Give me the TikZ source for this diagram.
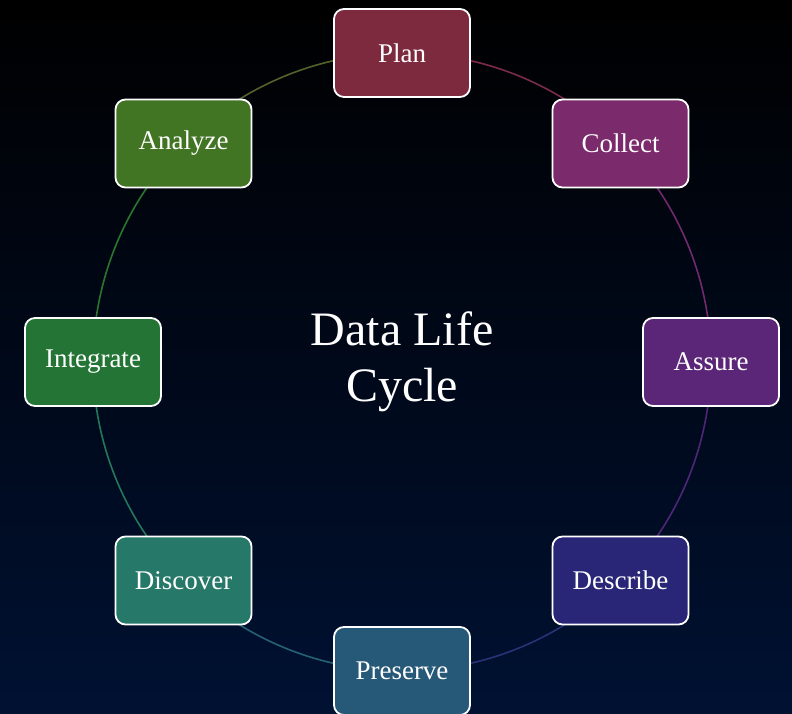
\documentclass[tikz,border=0pt]{standalone}
\usepackage{fontspec}
\setmainfont{Liberation Serif}
\usetikzlibrary{calc}
\pgfdeclarelayer{bg}
\pgfdeclarelayer{ring}
\pgfsetlayers{bg,ring,main}

% stage colours
\definecolor{cPlan}{RGB}{125,42,63}
\definecolor{cCollect}{RGB}{123,42,107}
\definecolor{cAssure}{RGB}{91,38,119}
\definecolor{cDescribe}{RGB}{42,38,119}
\definecolor{cPreserve}{RGB}{38,88,120}
\definecolor{cDiscover}{RGB}{38,120,104}
\definecolor{cIntegrate}{RGB}{36,117,53}
\definecolor{cAnalyze}{RGB}{66,117,35}
\definecolor{bgTop}{RGB}{0,0,0}
\definecolor{bgMid}{RGB}{3,6,16}
\definecolor{bgBot}{RGB}{0,17,50}

\tikzset{
  stagebox/.style={draw=white, line width=1.8pt, rounded corners=10pt,
    minimum width=136pt, minimum height=88pt, text=white,
    font=\fontsize{27}{31}\selectfont},
  ringarc/.style={line width=1.6pt},
}

\begin{document}
\begin{tikzpicture}[x=1pt,y=1pt]
  \useasboundingbox (0,0) rectangle (792,714);
  \clip (0,0) rectangle (792,714);
  \coordinate (c) at (402,352);

  % stages around the cycle
  \node[stagebox, fill=cPlan]      (plan)      at ($(c)+(90:309)$)  {Plan};
  \node[stagebox, fill=cCollect]   (collect)   at ($(c)+(45:309)$)  {Collect};
  \node[stagebox, fill=cAssure]    (assure)    at ($(c)+(0:309)$)   {Assure};
  \node[stagebox, fill=cDescribe]  (describe)  at ($(c)+(-45:309)$) {Describe};
  \node[stagebox, fill=cPreserve]  (preserve)  at ($(c)+(-90:309)$) {Preserve};
  \node[stagebox, fill=cDiscover]  (discover)  at ($(c)+(-135:309)$) {Discover};
  \node[stagebox, fill=cIntegrate] (integrate) at ($(c)+(180:309)$) {Integrate};
  \node[stagebox, fill=cAnalyze]   (analyze)   at ($(c)+(135:309)$) {Analyze};

  % centre title
  \node[text=white, align=center, font=\fontsize{48}{56}\selectfont] (title) at (c) {Data Life\\Cycle};

  % ring segments joining the stages
  \begin{pgfonlayer}{ring}
    \draw[ringarc, cPlan!75!cCollect]      (plan.center)      arc[start angle=90,   end angle=45,   radius=309pt];
    \draw[ringarc, cCollect!75!cAssure]    (collect.center)   arc[start angle=45,   end angle=0,    radius=309pt];
    \draw[ringarc, cAssure!75!cDescribe]   (assure.center)    arc[start angle=0,    end angle=-45,  radius=309pt];
    \draw[ringarc, cDescribe!75!cPreserve] (describe.center)  arc[start angle=-45,  end angle=-90,  radius=309pt];
    \draw[ringarc, cPreserve!75!cDiscover] (preserve.center)  arc[start angle=-90,  end angle=-135, radius=309pt];
    \draw[ringarc, cDiscover!75!cIntegrate](discover.center)  arc[start angle=-135, end angle=-180, radius=309pt];
    \draw[ringarc, cIntegrate!75!cAnalyze] (integrate.center) arc[start angle=180,  end angle=135,  radius=309pt];
    \draw[ringarc, cAnalyze!75!cPlan]      (analyze.center)   arc[start angle=135,  end angle=90,   radius=309pt];
  \end{pgfonlayer}

  % backdrop
  \begin{pgfonlayer}{bg}
    \shade[top color=bgTop, middle color=bgMid, bottom color=bgBot] (0,0) rectangle (792,714);
  \end{pgfonlayer}
\end{tikzpicture}
\end{document}
